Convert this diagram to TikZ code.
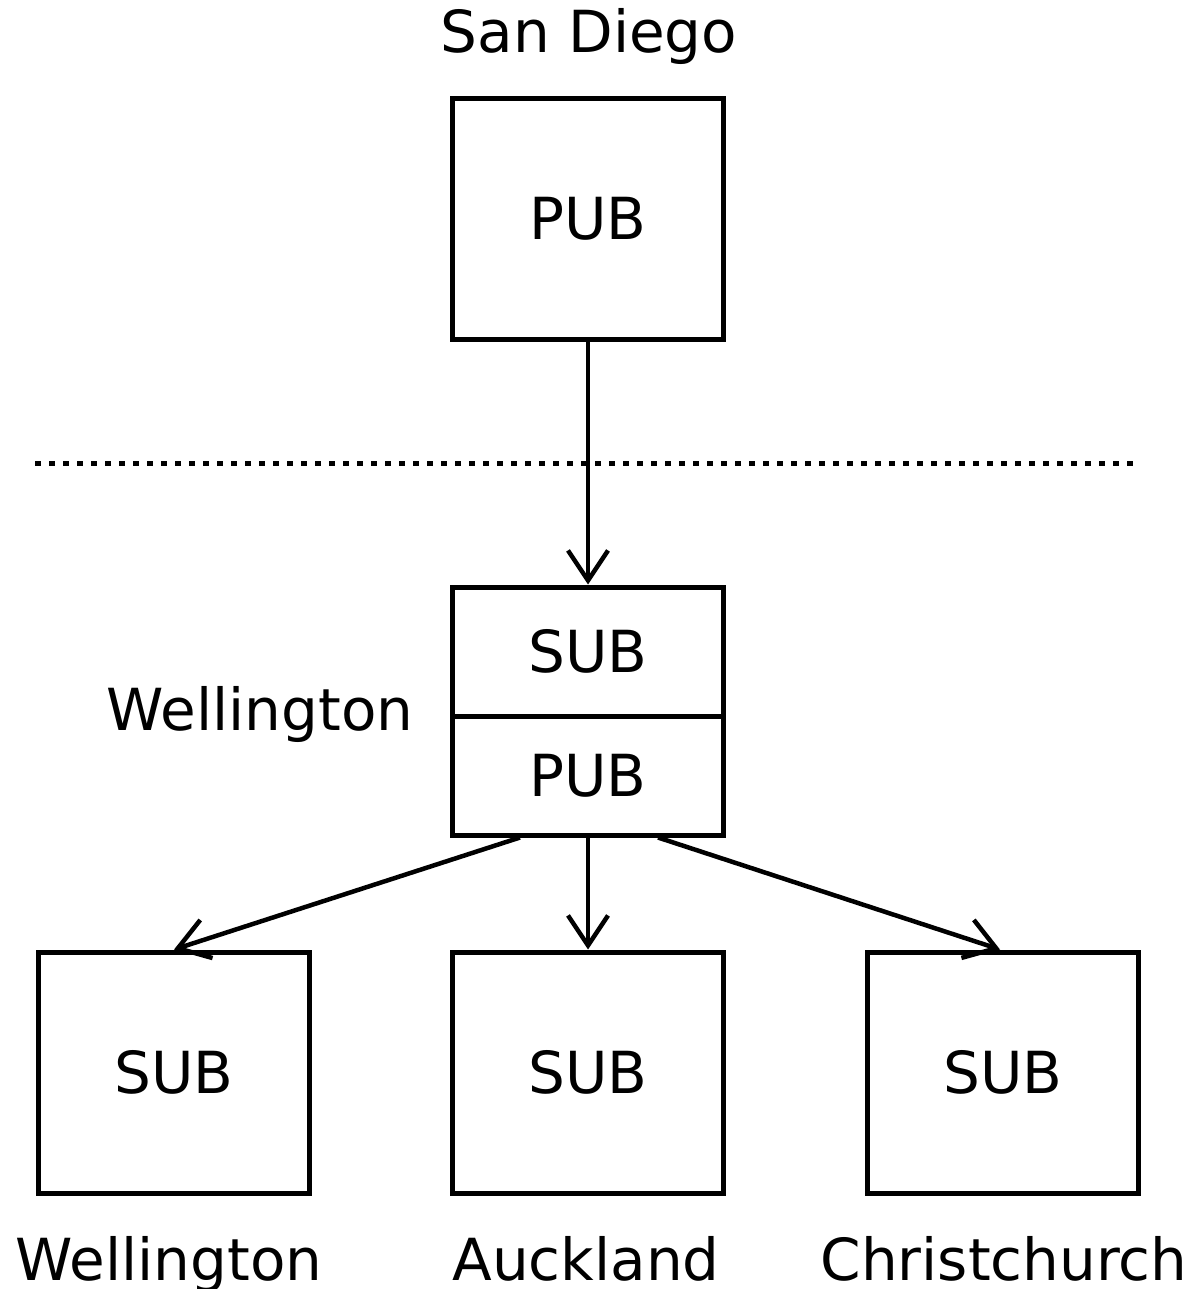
\documentclass[tikz,border=0pt]{standalone}
\usepackage{fontspec}
\setmainfont{DejaVu Sans}
\usetikzlibrary{arrows.meta,calc}
\begin{document}
\begin{tikzpicture}[x=1pt,y=-1pt,
  box/.style={draw,line width=5pt,minimum width=271pt,minimum height=241pt,inner sep=0pt,font=\fontsize{58}{60}\selectfont},
  half/.style={draw,line width=5pt,minimum width=271pt,inner sep=0pt,font=\fontsize{58}{60}\selectfont},
  place/.style={anchor=base,inner sep=0pt,font=\fontsize{58}{60}\selectfont},
  link/.style={line width=4.5pt,-{Straight Barb[length=30pt,width=40pt,line width=4.5pt]}}]
\useasboundingbox (0,0) rectangle (1194,1289);

% publisher in San Diego
\node[box] (sdpub) at (588,219) {PUB};
\node[place] (sdname) at (589,53) {San Diego};

% boundary between the two sites
\draw[line width=5pt,dash pattern=on 6pt off 8pt] (35,463) -- (1135,463);

% relay in Wellington: subscriber on top, publisher below
\node[half,minimum height=129pt] (wsub) at (588,651.5) {SUB};
\node[half,minimum height=119pt] (wpub) at (588,775.5) {PUB};
\node[place] (wname) at (260,730) {Wellington};

% subscribers
\node[box] (subw) at (174,1072.5) {SUB};
\node[box] (suba) at (588,1072.5) {SUB};
\node[box] (subc) at (1003,1072.5) {SUB};
\node[place] (nw) at (169,1280) {Wellington};
\node[place] (na) at (586,1280) {Auckland};
\node[place] (nc) at (1004,1280) {Christchurch};

% message flow
\draw[link] (sdpub.south) -- (wsub.north);
\draw[link] ($(wpub.south)+(-68,0)$) -- (subw.north);
\draw[link] (wpub.south) -- (suba.north);
\draw[link] ($(wpub.south)+(70,0)$) -- ($(subc.north)+(-3,0)$);
\end{tikzpicture}
\end{document}
